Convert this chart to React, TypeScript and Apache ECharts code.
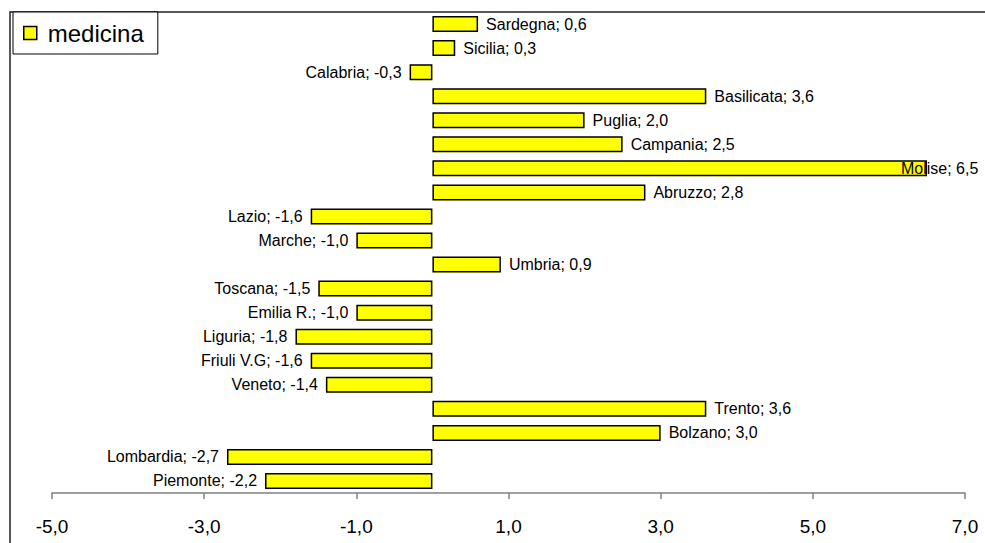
import React, { useEffect, useRef } from "react";
import * as echarts from "echarts";

const categories = [
  "Piemonte", "Lombardia", "Bolzano", "Trento", "Veneto", "Friuli V.G", "Liguria",
  "Emilia R.", "Toscana", "Umbria", "Marche", "Lazio", "Abruzzo", "Molise",
  "Campania", "Puglia", "Basilicata", "Calabria", "Sicilia", "Sardegna",
];
const values = [
  -2.2, -2.7, 3.0, 3.6, -1.4, -1.6, -1.8, -1.0, -1.5, 0.9, -1.0, -1.6, 2.8, 6.5,
  2.5, 2.0, 3.6, -0.3, 0.3, 0.6,
];
const seriesName = "medicina";

const fmt = (v: number) => v.toFixed(1).replace(".", ",");
const FONT = "'Liberation Sans', Arial, sans-serif";

export default function App() {
  const ref = useRef<HTMLDivElement>(null);
  useEffect(() => {
    if (!ref.current) return;
    const chart = echarts.init(ref.current, undefined, { renderer: "svg" });
    const data = values.map((v, i) => {
      const isMolise = categories[i] === "Molise";
      return {
        value: v,
        label: {
          position: v < 0 ? "left" : "right",
          offset: isMolise ? [-34, 0] : [0, 0],
        },
      };
    });
    chart.setOption({
      animation: false,
      backgroundColor: "#ffffff",
      textStyle: { fontFamily: FONT },
      graphic: [
        {
          type: "rect",
          shape: { x: 10, y: 12, width: 1200, height: 800 },
          style: { fill: "none", stroke: "#222", lineWidth: 1.5 },
          silent: true,
          z: 0,
        },
      ],
      legend: {
        left: 13,
        top: 12,
        orient: "vertical",
        data: [seriesName],
        icon: "rect",
        itemWidth: 13,
        itemHeight: 13,
        padding: [9, 14, 9, 10],
        borderColor: "#000",
        borderWidth: 1,
        backgroundColor: "#fff",
        itemStyle: { borderColor: "#000", borderWidth: 1.5 },
        textStyle: {
          fontSize: 24,
          color: "#000",
          fontFamily: FONT,
          padding: [0, 0, 0, 6],
        },
      },
      grid: { left: 52, right: 20, top: 12, bottom: 50, containLabel: false },
      xAxis: {
        type: "value",
        min: -5,
        max: 7,
        interval: 2,
        axisLine: { show: true, lineStyle: { color: "#808080", width: 1.5 } },
        axisTick: { show: true, length: 6, lineStyle: { color: "#808080", width: 1.5 } },
        splitLine: { show: false },
        axisLabel: {
          formatter: (v: number) => fmt(v),
          fontSize: 19,
          color: "#000",
          margin: 24,
          fontFamily: FONT,
        },
      },
      yAxis: {
        type: "category",
        data: categories,
        axisLine: { show: false },
        axisTick: { show: false },
        axisLabel: { show: false },
        splitLine: { show: false },
      },
      series: [
        {
          name: seriesName,
          type: "bar",
          data,
          barWidth: 16,
          itemStyle: { color: "#ffff00", borderColor: "#000", borderWidth: 1.5 },
          label: {
            show: true,
            distance: 8,
            fontSize: 16,
            color: "#000",
            fontFamily: FONT,
            formatter: (p: any) => `${p.name}; ${fmt(p.value)}`,
          },
        },
      ],
    });
    return () => chart.dispose();
  }, []);
  return <div ref={ref} style={{ width: 985, height: 543, position: "fixed", left: 0, top: 0 }} />;
}
